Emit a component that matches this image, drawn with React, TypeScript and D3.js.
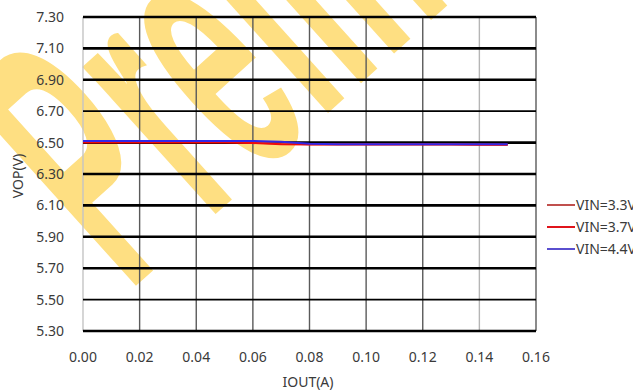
import React, { useEffect, useRef } from 'react'
import * as d3 from 'd3'

// IOUT (A)
const iout = [0, 0.01, 0.02, 0.03, 0.04, 0.05, 0.06, 0.07, 0.08, 0.09, 0.1, 0.11, 0.12, 0.13, 0.14, 0.15]
// VOP (V) per input voltage
const vin33 = [6.505, 6.505, 6.505, 6.505, 6.505, 6.505, 6.5, 6.495, 6.49, 6.49, 6.49, 6.49, 6.49, 6.49, 6.488, 6.487]
const vin37 = [6.5, 6.5, 6.5, 6.5, 6.5, 6.5, 6.497, 6.489, 6.488, 6.488, 6.488, 6.488, 6.488, 6.488, 6.487, 6.486]
const vin44 = [6.51, 6.51, 6.51, 6.51, 6.51, 6.51, 6.51, 6.506, 6.492, 6.49, 6.49, 6.49, 6.49, 6.49, 6.49, 6.49]

const seriesNames = ['VIN=3.3V', 'VIN=3.7V', 'VIN=4.4V']
const seriesColors = ['#c0504d', '#f00a0a', '#3326e6']
const legendColors = ['#c0504d', '#e0141b', '#5a4fcf']

const xTicks = [0, 0.02, 0.04, 0.06, 0.08, 0.1, 0.12, 0.14, 0.16]
const yTicks = [5.3, 5.5, 5.7, 5.9, 6.1, 6.3, 6.5, 6.7, 6.9, 7.1, 7.3]

const App = () => {
  const ref = useRef<SVGSVGElement>(null)

  useEffect(() => {
    const svg = d3.select(ref.current)
    svg.selectAll('*').remove()

    const font = "'Noto Sans', sans-serif"
    const textColor = '#3a3a3a'

    // watermark, behind everything
    svg
      .append('text')
      .attr('transform', 'translate(128,293) rotate(-42) scale(1,2.35)')
      .attr('font-family', "'Liberation Sans', Arial, sans-serif")
      .attr('font-weight', 'bold')
      .attr('font-size', 160)
      .attr('fill', '#fedf82')
      .text('Preliminary')

    const x = d3.scaleLinear().domain([0, 0.16]).range([83, 536])
    const y = d3.scaleLinear().domain([5.3, 7.3]).range([331, 17])

    // vertical grid
    svg
      .append('g')
      .selectAll('line')
      .data(xTicks)
      .join('line')
      .attr('x1', (d) => x(d))
      .attr('x2', (d) => x(d))
      .attr('y1', y(7.3))
      .attr('y2', y(5.3))
      .attr('stroke', (d, i) => (i === 0 ? '#c4c4c4' : i === 7 ? '#b5b5b5' : '#5a5a5a'))
      .attr('stroke-width', 1.4)

    // horizontal grid
    svg
      .append('g')
      .selectAll('line')
      .data(yTicks)
      .join('line')
      .attr('x1', x(0))
      .attr('x2', x(0.16))
      .attr('y1', (d) => y(d))
      .attr('y2', (d) => y(d))
      .attr('stroke', '#000')
      .attr('stroke-width', (d) => (Math.abs(d - 6.7) < 1e-6 || Math.abs(d - 5.5) < 1e-6 ? 1.8 : 2.6))

    // y tick labels
    svg
      .append('g')
      .selectAll('text')
      .data(yTicks)
      .join('text')
      .attr('x', 64)
      .attr('y', (d) => y(d))
      .attr('dy', '0.36em')
      .attr('text-anchor', 'end')
      .attr('font-family', font)
      .attr('font-size', 14)
      .attr('fill', textColor)
      .text((d) => d.toFixed(2))

    // x tick labels
    svg
      .append('g')
      .selectAll('text')
      .data(xTicks)
      .join('text')
      .attr('x', (d) => x(d))
      .attr('y', 362)
      .attr('text-anchor', 'middle')
      .attr('font-family', font)
      .attr('font-size', 14)
      .attr('fill', textColor)
      .text((d) => d.toFixed(2))

    // axis titles
    svg
      .append('text')
      .attr('transform', 'translate(23,176) rotate(-90)')
      .attr('text-anchor', 'middle')
      .attr('font-family', font)
      .attr('font-size', 14)
      .attr('fill', textColor)
      .text('VOP(V)')

    svg
      .append('text')
      .attr('x', 308)
      .attr('y', 387)
      .attr('text-anchor', 'middle')
      .attr('font-family', font)
      .attr('font-size', 14)
      .attr('fill', textColor)
      .text('IOUT(A)')

    // series
    const line = d3
      .line<number>()
      .x((d, i) => x(iout[i]))
      .y((d) => y(d))

    const series = [vin33, vin37, vin44]
    svg
      .append('g')
      .selectAll('path')
      .data(series)
      .join('path')
      .attr('d', (d) => line(d))
      .attr('fill', 'none')
      .attr('stroke', (d, i) => seriesColors[i])
      .attr('stroke-width', 2)

    // legend
    const legend = svg
      .append('g')
      .selectAll('g')
      .data(seriesNames)
      .join('g')
      .attr('transform', (d, i) => `translate(547,${205 + i * 22})`)

    legend
      .append('line')
      .attr('x1', 0)
      .attr('x2', 28)
      .attr('stroke', (d, i) => legendColors[i])
      .attr('stroke-width', 2)

    legend
      .append('text')
      .attr('x', 29)
      .attr('dy', '0.36em')
      .attr('font-family', font)
      .attr('font-size', 14)
      .attr('fill', textColor)
      .text((d) => d)
  }, [])

  return (
    <svg
      ref={ref}
      width={633}
      height={390}
      style={{ position: 'absolute', left: 0, top: 0, background: '#fff' }}
    ></svg>
  )
}

export default App
